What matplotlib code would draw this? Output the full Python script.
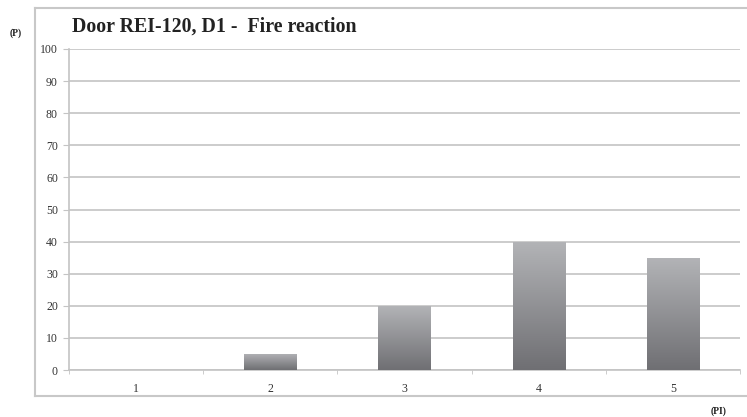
import numpy as np
import matplotlib.pyplot as plt
from matplotlib.lines import Line2D

categories = ["1", "2", "3", "4", "5"]
values = [0, 5, 20, 40, 35]
y_ticks = [0, 10, 20, 30, 40, 50, 60, 70, 80, 90, 100]

plt.rcParams['font.family'] = ['Liberation Serif', 'DejaVu Serif']

fig = plt.figure(figsize=(7.47, 4.17), dpi=100)
ax = fig.add_axes([0.0924, 0.1127, 0.8982, 0.7698])

grid_col = '#c4c4c4'
x = np.arange(1, len(categories) + 1)
bars = ax.bar(x, values, width=0.39, color='none', edgecolor='none', zorder=3)

# vertical gradient inside every bar
grad = np.linspace(0, 1, 256).reshape(-1, 1)
cmap = plt.matplotlib.colors.LinearSegmentedColormap.from_list('g', ['#6f6f73', '#b3b4b7'])
for b in bars:
    if b.get_height() <= 0:
        continue
    x0, w, h = b.get_x(), b.get_width(), b.get_height()
    im = ax.imshow(grad, cmap=cmap, aspect='auto', origin='lower',
                   extent=[x0, x0 + w, 0, h], zorder=3)
    im.set_clip_path(b)

ax.set_xlim(0.5, len(categories) + 0.5)
ax.set_ylim(0, 100)
ax.set_yticks(y_ticks)
ax.set_xticks(x)
ax.set_xticklabels(categories)
ax.set_xticks(np.arange(0.5, len(categories) + 1, 1), minor=True)
ax.tick_params(axis='x', which='major', length=0, pad=9, labelsize=8.5, labelcolor='#333333')
ax.tick_params(axis='x', which='minor', length=3, color=grid_col, direction='out')
ax.tick_params(axis='y', length=4, color=grid_col, pad=4, labelsize=8.5, labelcolor='#333333')
ax.yaxis.grid(True, color=grid_col, linewidth=1.2, zorder=0)
ax.set_axisbelow(True)
for s in ['top', 'right']:
    ax.spines[s].set_visible(False)
for s in ['left', 'bottom']:
    ax.spines[s].set_color(grid_col)
    ax.spines[s].set_linewidth(1.2)

# outer frame
box_col = '#c8c8c8'
x0, y0, y1 = 35 / 747, (417 - 395.5) / 417, (417 - 8) / 417
fig.add_artist(Line2D([x0, x0], [y0, y1], color=box_col, lw=1.5, transform=fig.transFigure))
fig.add_artist(Line2D([x0, 1.0], [y1, y1], color=box_col, lw=1.5, transform=fig.transFigure))
fig.add_artist(Line2D([x0, 1.0], [y0, y0], color=box_col, lw=1.5, transform=fig.transFigure))

fig.text(72 / 747, 1 - 27 / 417, "Door REI-120, D1 -  Fire reaction", fontsize=14.3,
         fontweight='bold', color='#222222', va='center', ha='left')
fig.text(10 / 747, 1 - 33 / 417, "(P)", fontsize=7, fontweight='bold', color='#222222',
         va='center', ha='left')
fig.text(711 / 747, 1 - 411 / 417, "(PI)", fontsize=7, fontweight='bold', color='#222222',
         va='center', ha='left')

fig.savefig('out.png', dpi=100)
